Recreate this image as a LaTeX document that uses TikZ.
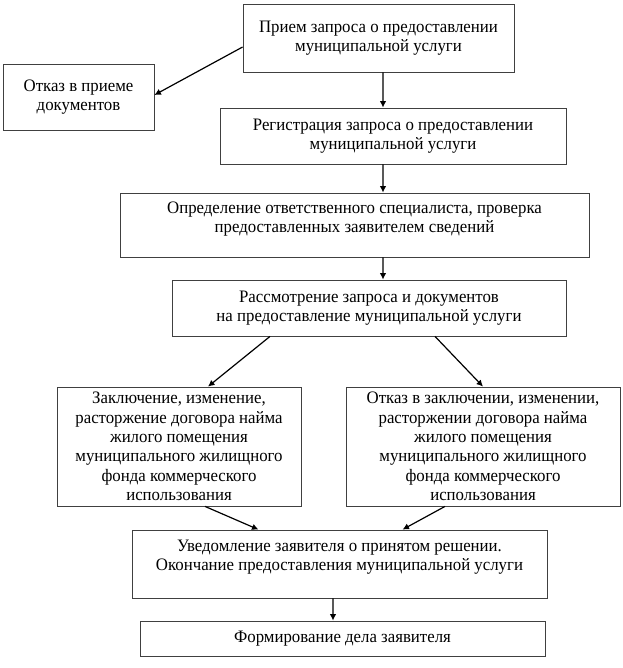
\documentclass[tikz,border=0pt]{standalone}
\usepackage{fontspec}
\setmainfont[FakeStretch=0.96]{Liberation Serif}
\usetikzlibrary{arrows.meta}
\begin{document}
\begin{tikzpicture}[x=1bp, y=-1bp, >={Latex[length=6.5bp, width=6.5bp]}, boxStyle/.style={rectangle, draw=black!75, line width=0.8bp, inner sep=0pt, align=center, font=\fontsize{17.5bp}{19.4bp}\selectfont}, textStyle/.style={inner sep=0pt, align=center, font=\fontsize{17.5bp}{19.4bp}\selectfont}, arrowStyle/.style={->, line width=1.2bp}]
                    \useasboundingbox (0, 0) rectangle (623, 668);

                    \node[boxStyle, minimum width=271bp, minimum height=68bp] (priem) at (378.5, 38) {Прием запроса о предоставлении\\муниципальной услуги};
                    \node[boxStyle, minimum width=151bp, minimum height=66bp] (otkaz) at ( 78.5, 97) {Отказ в приеме\\документов};
                    \node[boxStyle, minimum width=346bp, minimum height=56bp] (reg)   at (393, 136) {Регистрация запроса о предоставлении\\муниципальной услуги};

                    \node[boxStyle, minimum width=469bp, minimum height=64bp] (opred)   at (354.5, 225) {};
                    \node[textStyle]                                          (opred_t) at (354.5, 219) {Определение ответственного специалиста, проверка\\предоставленных заявителем сведений};

                    \node[boxStyle, minimum width=394bp, minimum height=56bp] (rassm) at (369, 308) {Рассмотрение запроса и документов\\на предоставление муниципальной услуги};

                    \node[boxStyle, minimum width=244bp, minimum height=119bp] (zakl)   at (179, 446.5) {Заключение, изменение,\\расторжение договора найма\\жилого помещения\\муниципального жилищного\\фонда коммерческого\\использования};
                    \node[boxStyle, minimum width=274bp, minimum height=119bp] (otkaz_zakl) at (483, 446.5) {Отказ в заключении, изменении,\\расторжении договора найма\\жилого помещения\\муниципального жилищного\\фонда коммерческого\\использования};

                    \node[boxStyle, minimum width=415bp, minimum height=68bp] (uved)   at (339.5, 564) {};
                    \node[textStyle]                                          (uved_t) at (339.5, 557) {Уведомление заявителя о принятом решении.\\Окончание предоставления муниципальной услуги};

                    \node[boxStyle, minimum width=405bp, minimum height=35bp] (form) at (342.5, 638.5) {Формирование дела заявителя};

                    \draw[arrowStyle] ([yshift=-9bp]priem.west)     -- ([yshift=2bp]otkaz.east);
                    \draw[arrowStyle] ([xshift=4.5bp]priem.south)   -- ([xshift=-10bp]reg.north);
                    \draw[arrowStyle] ([xshift=-10bp]reg.south)     -- ([xshift=28.5bp]opred.north);
                    \draw[arrowStyle] ([xshift=28.5bp]opred.south)  -- ([xshift=14bp]rassm.north);
                    \draw[arrowStyle] ([xshift=-99bp]rassm.south)   -- ([xshift=29bp]zakl.north);
                    \draw[arrowStyle] ([xshift=66bp]rassm.south)    -- (otkaz_zakl.north);
                    \draw[arrowStyle] ([xshift=26bp]zakl.south)     -- ([xshift=-81bp]uved.north);
                    \draw[arrowStyle] ([xshift=-38bp]otkaz_zakl.south) -- ([xshift=63bp]uved.north);
                    \draw[arrowStyle] ([xshift=-6.5bp]uved.south)   -- ([xshift=-9.5bp]form.north);
                \end{tikzpicture}
\end{document}
